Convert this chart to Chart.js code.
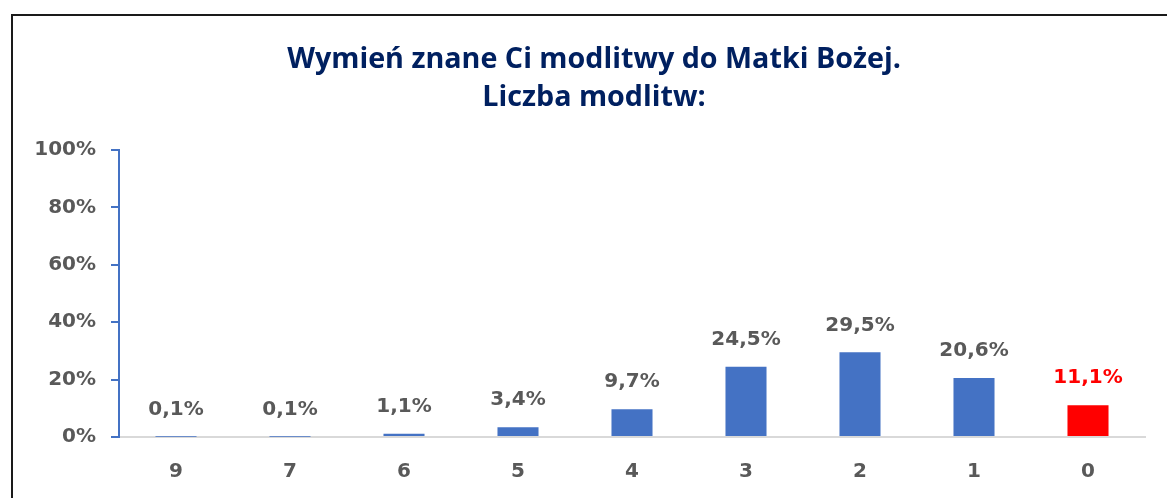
<!DOCTYPE html>
<html>
<head>
<meta charset="utf-8">
<script src="https://cdn.jsdelivr.net/npm/chart.js@4/dist/chart.umd.min.js"></script>
<style>
  html, body { margin: 0; padding: 0; background: #fff; }
  #wrap { position: relative; width: 1167px; height: 498px; overflow: hidden; }
  #ramka { position: absolute; left: 11px; top: 14px; width: 1200px; height: 500px;
           border-top: 2px solid #1a1a1a; border-left: 2px solid #1a1a1a; box-sizing: border-box; }
  canvas { position: absolute; left: 0; top: 0; }
</style>
</head>
<body>
<div id="wrap">
  <div id="ramka"></div>
  <canvas id="wykres" width="1167" height="498"></canvas>
</div>
<script>
  // Dane
  var KATEGORIE = ["9", "7", "6", "5", "4", "3", "2", "1", "0"];
  var WARTOSCI = [0.1, 0.1, 1.1, 3.4, 9.7, 24.5, 29.5, 20.6, 11.1];
  var ETYKIETY = ["0,1%", "0,1%", "1,1%", "3,4%", "9,7%", "24,5%", "29,5%", "20,6%", "11,1%"];
  var TYTUL = ["Wymień znane Ci modlitwy do Matki Bożej.", "Liczba modlitw:"];

  var NIEBIESKI = "#4472C4";
  var CZERWONY = "#FF0000";
  var SZARY = "#595959";
  var FONT_TYTUL = "'Open Sans', 'Liberation Sans', sans-serif";
  var FONT = "'DejaVu Sans', 'Liberation Sans', sans-serif";

  var kolory = KATEGORIE.map(function (k) { return k === "0" ? CZERWONY : NIEBIESKI; });

  // Tytuł wyśrodkowany w ramce (nie nad samym obszarem wykresu)
  var tytulPlugin = {
    id: "tytul",
    afterDraw: function (chart) {
      var ctx = chart.ctx;
      ctx.save();
      ctx.font = "bold 28.7px " + FONT_TYTUL;
      ctx.fillStyle = "#002060";
      ctx.textAlign = "center";
      ctx.textBaseline = "middle";
      ctx.fillText(TYTUL[0], 594, 60);
      ctx.fillText(TYTUL[1], 594, 98);
      ctx.restore();
    }
  };

  // Etykiety wartości nad słupkami
  var etykietyPlugin = {
    id: "etykiety",
    afterDatasetsDraw: function (chart) {
      var ctx = chart.ctx;
      var meta = chart.getDatasetMeta(0);
      ctx.save();
      ctx.font = "bold 20px " + FONT;
      ctx.textAlign = "center";
      ctx.textBaseline = "middle";
      meta.data.forEach(function (bar, i) {
        ctx.fillStyle = KATEGORIE[i] === "0" ? CZERWONY : SZARY;
        ctx.fillText(ETYKIETY[i], bar.x, bar.y - 27);
      });
      ctx.restore();
    }
  };

  new Chart(document.getElementById("wykres"), {
    type: "bar",
    data: {
      labels: KATEGORIE,
      datasets: [{
        data: WARTOSCI,
        backgroundColor: kolory,
        borderWidth: 0,
        barPercentage: 0.72,
        categoryPercentage: 0.5
      }]
    },
    options: {
      responsive: false,
      animation: false,
      devicePixelRatio: 1,
      layout: { padding: { left: 0, right: 22, top: 150, bottom: 0 } },
      plugins: {
        legend: { display: false },
        tooltip: { enabled: false },
        title: { display: false }
      },
      scales: {
        x: {
          grid: { display: false, drawTicks: false },
          border: { display: true, color: "#D9D9D9", width: 2 },
          ticks: { color: SZARY, font: { family: FONT, size: 20, weight: "bold" }, padding: 23 },
          afterFit: function (s) { s.height = 61; }
        },
        y: {
          min: 0, max: 100,
          ticks: {
            stepSize: 20,
            color: SZARY,
            padding: 15,
            font: { family: FONT, size: 20, weight: "bold" },
            callback: function (v) { return v + "%"; }
          },
          grid: { display: true, drawOnChartArea: false, drawTicks: true, tickLength: 8, color: NIEBIESKI, lineWidth: 2 },
          border: { display: true, color: NIEBIESKI, width: 2 },
          afterFit: function (s) { s.width = 119; }
        }
      }
    },
    plugins: [etykietyPlugin, tytulPlugin]
  });
</script>
</body>
</html>
